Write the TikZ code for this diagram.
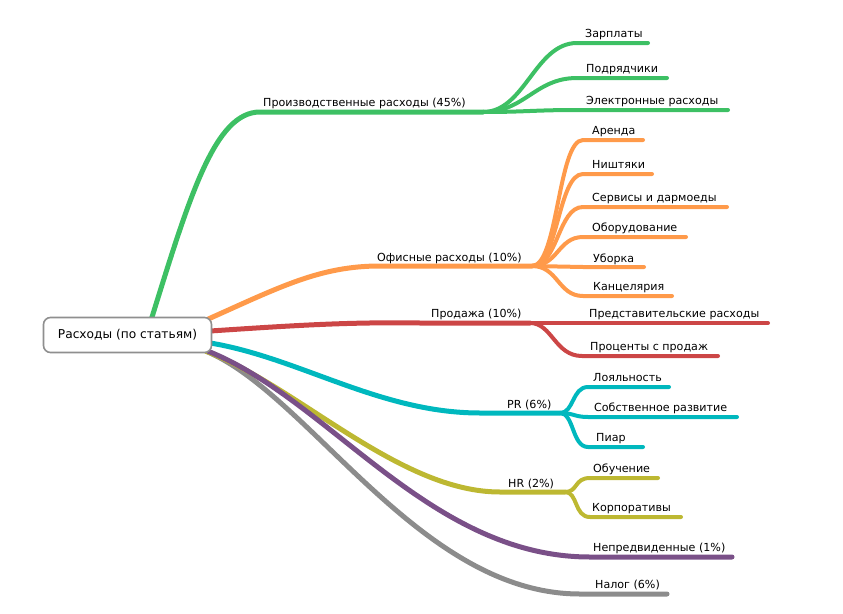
\documentclass[tikz,border=0pt]{standalone}
\usepackage{fontspec}
\newfontfamily\mapfont{DejaVu Sans}
\usetikzlibrary{backgrounds}
\definecolor{prodgreen}{RGB}{61,192,100}
\definecolor{offorange}{RGB}{255,154,74}
\definecolor{salered}{RGB}{204,70,70}
\definecolor{prteal}{RGB}{0,184,190}
\definecolor{hrolive}{RGB}{189,184,50}
\definecolor{extpurple}{RGB}{122,80,136}
\definecolor{taxgray}{RGB}{140,140,140}
\definecolor{rootgray}{RGB}{143,143,143}
\begin{document}
\begin{tikzpicture}[x=1pt, y=-1pt,
	branch/.style={line width=5pt, line cap=round},
	twig/.style={line width=4pt, line cap=round},
	lbl/.style={anchor=base west, inner sep=0pt, font=\mapfont\fontsize{11.1}{13}\selectfont}]
	\useasboundingbox (0,0) rectangle (843,613);
	\node[draw=rootgray, line width=1.6pt, fill=white, rounded corners=7pt, minimum width=168pt, minimum height=35pt, font=\mapfont\fontsize{12.2}{14}\selectfont] (root) at (127.5,335) {Расходы (по статьям)};
	% split points
	\coordinate (prod) at (483,112);
	\coordinate (office) at (532,266);
	\coordinate (sale) at (530,323);
	\coordinate (pr) at (560,413);
	\coordinate (hr) at (565,492);
	\coordinate (extra) at (732,557);
	\coordinate (tax) at (667,594);
	% labels
	\node[lbl] (prodl) at (263,106) {Производственные расходы (45\%)};
	\node[lbl] (offl) at (377,261) {Офисные расходы (10\%)};
	\node[lbl] (salel) at (431,317) {Продажа (10\%)};
	\node[lbl] (prl) at (507,408) {PR (6\%)};
	\node[lbl] (hrl) at (508,487) {HR (2\%)};
	\node[lbl] (extral) at (593,551) {Непредвиденные (1\%)};
	\node[lbl] (taxl) at (595,588) {Налог (6\%)};
	\node[lbl] (p1) at (585,37) {Зарплаты};
	\node[lbl] (p2) at (586,72) {Подрядчики};
	\node[lbl] (p3) at (586,104) {Электронные расходы};
	\node[lbl] (o1) at (592,134) {Аренда};
	\node[lbl] (o2) at (592,168) {Ништяки};
	\node[lbl] (o3) at (592,201) {Сервисы и дармоеды};
	\node[lbl] (o4) at (592,231) {Оборудование};
	\node[lbl] (o5) at (593,262) {Уборка};
	\node[lbl] (o6) at (593,290) {Канцелярия};
	\node[lbl] (s1) at (589,317) {Представительские расходы};
	\node[lbl] (s2) at (590,350) {Проценты с продаж};
	\node[lbl] (r1) at (593,381) {Лояльность};
	\node[lbl] (r2) at (594,411) {Собственное развитие};
	\node[lbl] (r3) at (596,441) {Пиар};
	\node[lbl] (h1) at (593,472) {Обучение};
	\node[lbl] (h2) at (592,511) {Корпоративы};
	\begin{pgfonlayer}{background}
	% main branches
	\draw[branch,taxgray] ([xshift=-6pt,yshift=2pt]root.south east) .. controls (310,395) and (420,594) .. (580,594) -- (tax);
	\draw[branch,hrolive] ([xshift=-6pt,yshift=2pt]root.south east) .. controls (300,388) and (400,492) .. (500,492) -- (hr);
	\draw[branch,extpurple] ([xshift=-4pt,yshift=2pt]root.south east) .. controls (330,400) and (430,557) .. (590,557) -- (extra);
	\draw[branch,prteal] ([xshift=-2pt,yshift=-8pt]root.east) .. controls (300,358) and (380,413) .. (480,413) -- (pr);
	\draw[branch,salered] ([xshift=-2pt,yshift=4pt]root.east) .. controls (300,325) and (350,322) .. (420,323) -- (sale);
	\draw[branch,offorange] ([xshift=-4pt,yshift=16pt]root.east) .. controls (280,287) and (320,266) .. (380,266) -- (office);
	\draw[branch,prodgreen] ([xshift=24pt,yshift=-2pt]root.north) .. controls (190,195) and (215,112) .. (260,112) -- (prod);
	% production
	\draw[twig,prodgreen] (prod) .. controls (525,112) and (535,43) .. (577,43) -- (648,43);
	\draw[twig,prodgreen] (prod) .. controls (525,112) and (535,78) .. (577,78) -- (667,78);
	\draw[twig,prodgreen] (prod) .. controls (525,112) and (535,110) .. (577,110) -- (728,110);
	% office
	\foreach \y/\e in {140/643, 174/652, 207/727, 237/686, 267/644, 296/672}
		\draw[twig,offorange] (office) .. controls (558,266) and (558,\y) .. (583,\y) -- (\e,\y);
	% sale
	\draw[twig,salered] (sale) -- (768,323);
	\draw[twig,salered] (sale) .. controls (552,323) and (555,356) .. (582,356) -- (718,356);
	% pr
	\draw[twig,prteal] (pr) .. controls (574,413) and (572,387) .. (588,387) -- (669,387);
	\draw[twig,prteal] (pr) .. controls (574,413) and (574,417) .. (588,417) -- (737,417);
	\draw[twig,prteal] (pr) .. controls (574,413) and (572,447) .. (588,447) -- (643,447);
	% hr
	\draw[twig,hrolive] (hr) .. controls (578,492) and (574,478) .. (590,478) -- (658,478);
	\draw[twig,hrolive] (hr) .. controls (578,492) and (574,517) .. (590,517) -- (681,517);
	\end{pgfonlayer}
\end{tikzpicture}
\end{document}
